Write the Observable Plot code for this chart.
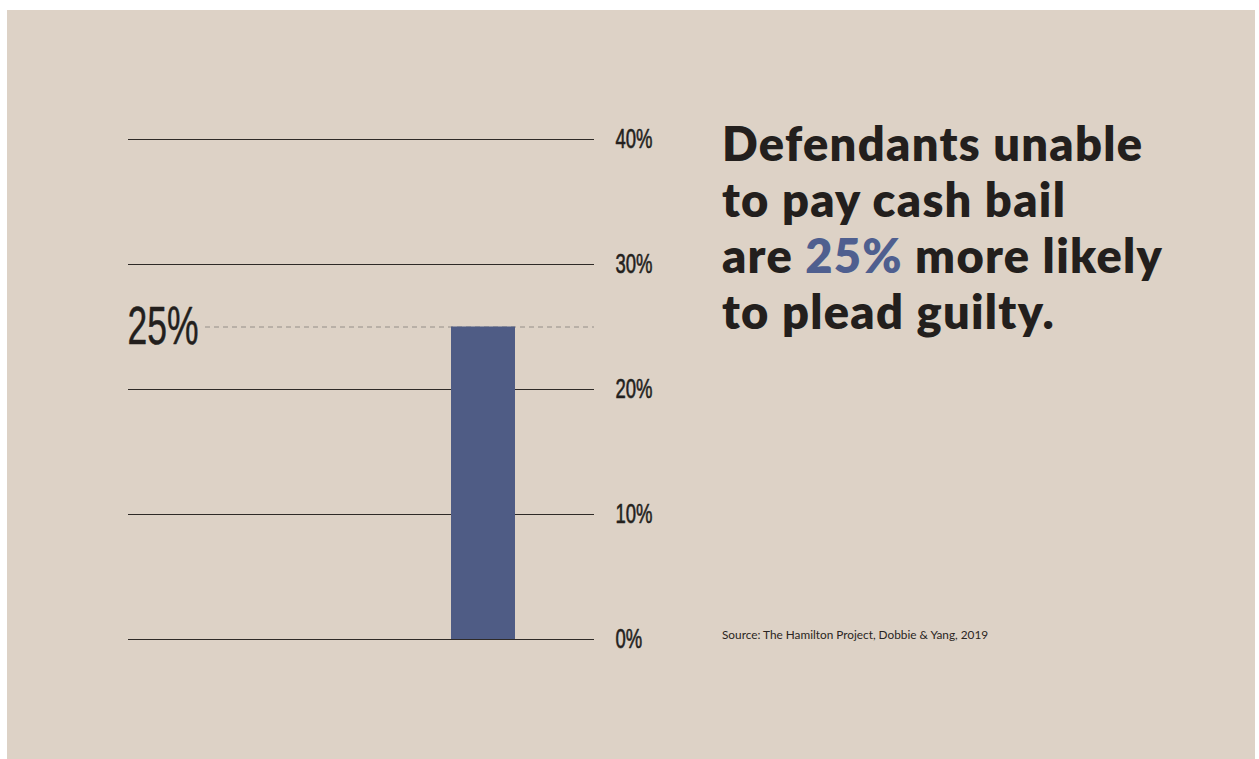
<!DOCTYPE html>
<html>
<head>
<meta charset="utf-8">
<script src="https://cdn.jsdelivr.net/npm/d3@7"></script>
<script src="https://cdn.jsdelivr.net/npm/@observablehq/plot@0.6"></script>
<style>
  html, body { margin: 0; padding: 0; background: #ffffff; }
  body { position: relative; width: 1259px; height: 759px; overflow: hidden; }
  #page { position: absolute; left: 7px; top: 10px; width: 1248px; height: 749px; background: #ddd2c6; }
  #chart { position: absolute; left: 0; top: 0; width: 1259px; height: 759px; }
  #chart svg { max-width: none !important; }
  #title { position: absolute; left: 722px; top: 115px; font-family: Lato, sans-serif; font-weight: 800; font-size: 47px; line-height: 56px; color: #231f1d; white-space: nowrap; letter-spacing: 1.3px; }
  #title .hl { color: #4f5f8f; }
  #source { position: absolute; left: 722px; top: 627px; font-family: Lato, sans-serif; font-size: 11.8px; color: #2a2522; white-space: nowrap; }
</style>
</head>
<body>
<div id="page"></div>
<div id="chart"></div>
<div id="title">Defendants unable<br>to pay cash bail<br>are <span class="hl">25%</span> more likely<br>to plead guilty.</div>
<div id="source">Source: The Hamilton Project, Dobbie &amp; Yang, 2019</div>
<script>
const categories = ["Unable to pay cash bail"];
const values = [25];
const yTicks = [0, 10, 20, 30, 40];
const highlightValue = 25;

const data = categories.map((c, i) => ({category: c, value: values[i]}));

const svg = Plot.plot({
  width: 1259,
  height: 759,
  marginTop: 139,
  marginBottom: 120,
  marginLeft: 128,
  marginRight: 665,
  style: {background: "transparent", fontFamily: "'Liberation Sans', Arial, sans-serif", color: "#231f1d", overflow: "visible"},
  x: {domain: categories, axis: null, paddingInner: 0, paddingOuter: 3.14, align: 0.803},
  y: {domain: [0, 40], axis: null},
  marks: [
    Plot.ruleY(yTicks, {stroke: "#2e2a27", strokeWidth: 1}),
    Plot.ruleY([highlightValue], {stroke: "#948e88", strokeWidth: 1, strokeDasharray: "5,4", insetLeft: 77}),
    Plot.barY(data, {x: "category", y: "value", fill: "#4f5c85"}),
    Plot.axisY(yTicks, {anchor: "right", label: null, tickSize: 0, tickPadding: 21, tickFormat: d => d + "%", fontSize: 27, fill: "#231f1d", textStroke: "#231f1d", textStrokeWidth: 0.6}),
    Plot.text([highlightValue], {y: d => d, frameAnchor: "left", dx: -1, text: d => d + "%", textAnchor: "start", fontSize: 54, fill: "#231f1d", stroke: "#231f1d", strokeWidth: 0.5})
  ]
});
document.getElementById("chart").appendChild(svg);

// condense the labels to mimic the condensed typeface of the original
svg.querySelectorAll("text").forEach(t => {
  const w = t.getComputedTextLength();
  const isLabel = t.parentNode && t.parentNode.getAttribute("aria-label") === "text";
  const factor = isLabel ? 0.657 : 0.685;
  if (w > 0) {
    t.setAttribute("textLength", (w * factor).toFixed(1));
    t.setAttribute("lengthAdjust", "spacingAndGlyphs");
  }
});
</script>
</body>
</html>
